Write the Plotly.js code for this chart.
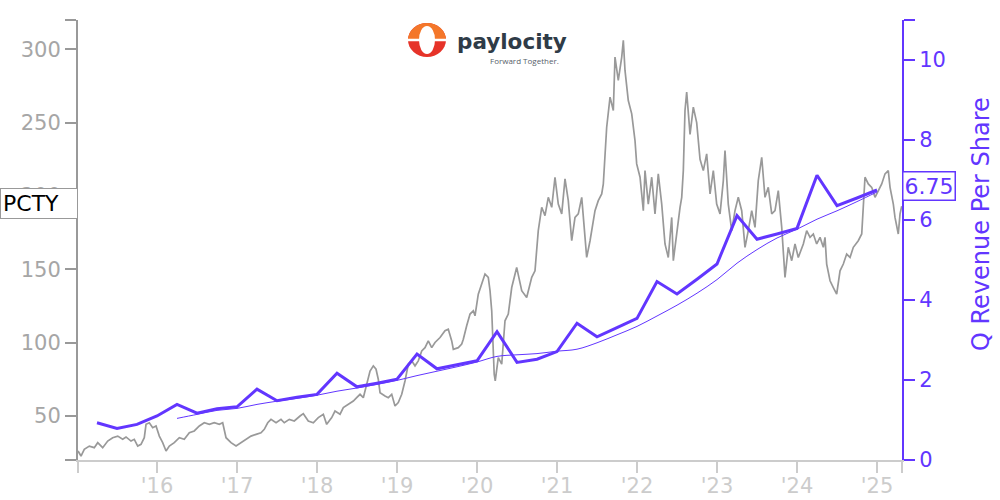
<!DOCTYPE html>
<html>
<head>
<meta charset="utf-8">
<script src="https://cdn.plot.ly/plotly-3.0.1.min.js"></script>
<style>html,body{margin:0;padding:0;background:#fff;}#chart{width:1000px;height:500px;}</style>
</head>
<body>
<div id="chart"></div>
<script>
// ---- Data ----
var ticker = 'PCTY';
var priceX = [2015.013,2015.050,2015.091,2015.154,2015.216,2015.259,2015.321,2015.384,2015.446,2015.509,2015.571,2015.613,2015.675,2015.716,2015.759,2015.800,2015.841,2015.863,2015.904,2015.946,2015.988,
2016.029,2016.071,2016.113,2016.154,2016.216,2016.279,2016.341,2016.404,2016.466,2016.529,2016.591,2016.654,2016.716,2016.779,2016.821,2016.863,2016.925,2016.988,
2017.050,2017.113,2017.175,2017.238,2017.300,2017.341,2017.384,2017.425,2017.488,2017.550,2017.591,2017.654,2017.716,2017.788,2017.829,2017.891,2017.954,
2018.016,2018.079,2018.121,2018.184,2018.225,2018.288,2018.329,2018.391,2018.454,2018.496,2018.538,2018.579,2018.621,2018.663,2018.704,2018.738,2018.766,2018.788,2018.850,2018.891,2018.934,2018.975,
2019.016,2019.059,2019.100,2019.141,2019.184,2019.225,2019.266,2019.309,2019.350,2019.391,2019.434,2019.475,2019.538,2019.600,2019.641,2019.684,2019.704,2019.766,2019.809,2019.829,2019.871,2019.913,2019.954,2019.975,
2020.016,2020.059,2020.100,2020.141,2020.163,2020.184,2020.204,2020.215,2020.228,2020.266,2020.309,2020.350,2020.391,2020.434,2020.496,2020.559,2020.621,2020.684,2020.725,2020.766,2020.809,2020.850,2020.891,2020.934,2020.975,
2021.016,2021.059,2021.100,2021.141,2021.184,2021.225,2021.266,2021.309,2021.350,2021.371,2021.413,2021.475,2021.516,2021.559,2021.579,2021.600,2021.621,2021.663,2021.704,2021.725,2021.766,2021.809,2021.829,2021.850,2021.891,2021.934,2021.975,2021.996,
2022.038,2022.079,2022.100,2022.141,2022.184,2022.225,2022.266,2022.309,2022.350,2022.391,2022.434,2022.454,2022.496,2022.538,2022.559,2022.579,2022.600,2022.621,2022.663,2022.704,2022.746,2022.788,2022.829,2022.871,2022.913,2022.954,2022.996,
2023.038,2023.079,2023.100,2023.141,2023.184,2023.225,2023.266,2023.309,2023.350,2023.391,2023.434,2023.475,2023.516,2023.559,2023.600,2023.641,2023.684,2023.725,2023.766,2023.809,2023.829,2023.850,2023.891,2023.934,2023.975,
2024.016,2024.079,2024.121,2024.163,2024.204,2024.246,2024.288,2024.329,2024.350,2024.371,2024.413,2024.454,2024.496,2024.538,2024.579,2024.621,2024.663,2024.704,2024.766,2024.809,2024.829,2024.850,2024.891,2024.934,2024.975,
2025.016,2025.059,2025.100,2025.141,2025.163,2025.204,2025.225,2025.266,2025.288,2025.309];
var priceY = [26.1,22.7,27.3,29.5,28.4,31.8,28.4,32.9,35.2,36.3,34.1,35.7,32.9,34.1,29.5,30.7,35.2,44.3,45.4,42.0,43.2,
36.3,31.8,26.1,29.5,31.8,35.2,34.1,38.6,39.8,43.2,45.4,44.3,45.4,44.3,45.4,35.2,31.8,29.5,
31.8,34.1,36.3,37.5,38.6,40.9,45.4,47.7,45.4,47.7,45.4,47.7,46.6,50.0,51.6,46.6,45.4,
48.9,51.2,44.3,48.9,53.4,51.2,55.7,58.0,60.2,62.5,64.8,62.5,71.6,80.7,84.2,81.9,75.1,65.9,63.7,62.5,64.8,56.8,
59.1,64.8,73.9,85.3,87.6,84.2,87.6,94.4,96.6,101.2,96.6,100.1,103.5,108.1,109.2,101.2,95.5,96.6,99.0,102.4,111.5,119.5,121.7,118.3,
133.1,139.9,146.8,144.5,135.4,121.7,94.4,78.5,73.9,89.8,85.3,114.9,119.5,137.6,151.3,135.4,130.8,144.5,149.0,176.4,192.3,186.6,199.1,192.3,212.8,
194.5,187.8,211.7,196.8,169.5,185.4,187.8,199.1,171.8,158.1,169.5,190.0,196.8,201.4,208.2,226.4,246.9,267.4,258.3,294.7,278.8,294.7,306.1,285.6,265.1,256.0,237.8,221.9,
212.8,190.0,217.3,194.5,212.8,187.8,215.1,194.5,167.3,158.1,185.4,155.9,176.4,192.3,199.1,217.3,258.3,270.8,242.0,260.6,250.0,225.0,217.3,228.7,201.4,217.3,194.5,
187.8,210.5,231.0,194.5,176.4,190.0,199.1,190.0,165.0,176.4,190.0,178.6,210.5,226.4,199.1,205.9,187.8,190.0,203.7,178.6,158.1,144.5,165.0,155.9,167.3,
158.1,167.3,176.4,171.8,174.1,167.3,171.8,165.0,171.8,153.6,142.2,137.6,133.1,149.0,153.6,160.4,158.1,165.0,169.5,174.1,190.0,212.8,208.2,205.9,199.1,
203.7,208.2,215.1,217.3,205.9,194.5,185.4,174.1,187.8,193.0];

var revX = [2015.25,2015.5,2015.75,2016.0,2016.25,2016.5,2016.75,2017.0,2017.25,2017.5,2017.75,2018.0,2018.25,2018.5,2018.75,2019.0,2019.25,2019.5,2019.75,2020.0,
2020.25,2020.5,2020.75,2021.0,2021.25,2021.5,2021.75,2022.0,2022.25,2022.5,2022.75,2023.0,2023.25,2023.5,2023.75,2024.0,2024.25,2024.5,2024.75,2025.0];
var revY = [0.93,0.79,0.89,1.10,1.39,1.17,1.28,1.33,1.77,1.48,1.57,1.64,2.17,1.83,1.92,2.02,2.65,2.28,2.38,2.48,
3.21,2.44,2.52,2.71,3.42,3.08,3.31,3.54,4.46,4.15,4.52,4.90,6.11,5.52,5.65,5.79,7.12,6.36,6.55,6.75];

var avgX = [2016.25,2016.5,2016.75,2017.0,2017.25,2017.5,2017.75,2018.0,2018.25,2018.5,2018.75,2019.0,2019.25,2019.5,2019.75,2020.0,
2020.25,2020.5,2020.75,2021.0,2021.25,2021.5,2021.75,2022.0,2022.25,2022.5,2022.75,2023.0,2023.25,2023.5,2023.75,2024.0,2024.25,2024.5,2024.75,2025.0];
var avgY = [1.04,1.14,1.24,1.29,1.39,1.47,1.54,1.62,1.72,1.80,1.89,1.99,2.11,2.22,2.33,2.45,
2.59,2.63,2.66,2.72,2.77,2.93,3.13,3.34,3.60,3.87,4.17,4.51,4.92,5.26,5.55,5.77,6.02,6.23,6.46,6.70];

var xTickVals = [2015.0125,2016,2017,2018,2019,2020,2021,2022,2023,2024,2025,2025.3125];
var xTickText = ['',"'16","'17","'18","'19","'20","'21","'22","'23","'24","'25",''];
var yTickVals = [20,50,100,150,200,250,300,320];
var yTickText = ['','50','100','150','200','250','300',''];
var y2TickVals = [0,2,4,6,8,10,11];
var y2TickText = ['0','2','4','6','8','10',''];
var revLabel = '6.75';
var logoName = 'paylocity';
var logoTagline = 'Forward Together.';
var y2Title = 'Q Revenue Per Share';

// ---- Styles ----
var PURPLE = '#6236ff';
var FONT = 'DejaVu Sans';

var traces = [
  {x: priceX, y: priceY, type: 'scatter', mode: 'lines', yaxis: 'y',
   line: {color: '#999999', width: 1.7}, hoverinfo: 'skip', showlegend: false},
  {x: avgX, y: avgY, type: 'scatter', mode: 'lines', yaxis: 'y2',
   line: {color: PURPLE, width: 1, shape: 'spline'}, hoverinfo: 'skip', showlegend: false},
  {x: revX, y: revY, type: 'scatter', mode: 'lines', yaxis: 'y2',
   line: {color: PURPLE, width: 3}, hoverinfo: 'skip', showlegend: false}
];

var iconX = (427 - 78) / 824, iconY = (460 - 40) / 440;

var layout = {
  width: 1000, height: 500,
  margin: {l: 78, r: 98, t: 20, b: 40, pad: 0},
  paper_bgcolor: '#ffffff', plot_bgcolor: '#ffffff',
  font: {family: FONT},
  showlegend: false,
  xaxis: {
    type: 'linear', range: [2015.0125, 2025.3125],
    tickmode: 'array', tickvals: xTickVals, ticktext: xTickText,
    showgrid: false, zeroline: false,
    showline: true, linecolor: '#cccccc', linewidth: 2,
    ticks: 'outside', ticklen: 11, tickwidth: 2, tickcolor: '#cccccc',
    ticklabelstandoff: -5,
    tickfont: {family: FONT, size: 21, color: '#cccccc'}
  },
  yaxis: {
    range: [20, 320],
    tickmode: 'array', tickvals: yTickVals, ticktext: yTickText,
    showgrid: false, zeroline: false,
    showline: true, linecolor: '#999999', linewidth: 2,
    ticks: 'outside', ticklen: 11, tickwidth: 2, tickcolor: '#999999',
    tickfont: {family: FONT, size: 21, color: '#a6a6a6'}
  },
  yaxis2: {
    overlaying: 'y', side: 'right', range: [0, 11],
    tickmode: 'array', tickvals: y2TickVals, ticktext: y2TickText,
    showgrid: false, zeroline: false,
    showline: true, linecolor: PURPLE, linewidth: 2,
    ticks: 'outside', ticklen: 11, tickwidth: 2, tickcolor: PURPLE,
    tickfont: {family: FONT, size: 21, color: PURPLE}
  },
  shapes: [
    {type: 'circle', xref: 'paper', yref: 'paper', xsizemode: 'pixel', ysizemode: 'pixel',
     xanchor: iconX, yanchor: iconY, x0: -19, x1: 19, y0: -17, y1: 17,
     fillcolor: '#e63329', line: {width: 0}, layer: 'above'},
    {type: 'path', xref: 'paper', yref: 'paper', xsizemode: 'pixel', ysizemode: 'pixel',
     xanchor: iconX, yanchor: iconY,
     path: 'M -19 0 C -19 9.39 -10.49 17 0 17 C 10.49 17 19 9.39 19 0 Z',
     fillcolor: '#f4772a', line: {width: 0}, layer: 'above'},
    {type: 'circle', xref: 'paper', yref: 'paper', xsizemode: 'pixel', ysizemode: 'pixel',
     xanchor: iconX, yanchor: iconY, x0: -8, x1: 8, y0: -14, y1: 14,
     fillcolor: '#ffffff', line: {width: 0}, layer: 'above'},
    {type: 'rect', xref: 'paper', yref: 'paper', xsizemode: 'pixel', ysizemode: 'pixel',
     xanchor: iconX, yanchor: iconY, x0: -21, x1: 21, y0: -1.3, y1: 1.3,
     fillcolor: '#ffffff', line: {width: 0}, layer: 'above'}
  ],
  annotations: [
    {xref: 'paper', yref: 'paper', x: (455 - 78) / 824, y: (460 - 41) / 440,
     xanchor: 'left', yanchor: 'middle', showarrow: false, text: '<b>' + logoName + '</b>',
     font: {family: FONT, size: 21.5, color: '#2f3b47'}},
    {xref: 'paper', yref: 'paper', x: (488 - 78) / 824, y: (460 - 61) / 440,
     xanchor: 'left', yanchor: 'middle', showarrow: false, text: logoTagline,
     font: {family: 'Open Sans', size: 8, color: '#56606a'}},
    {xref: 'paper', yref: 'y', x: 0, y: priceY[priceY.length - 1], yshift: 3,
     xanchor: 'right', yanchor: 'middle', showarrow: false, text: ticker,
     align: 'left', width: 72,
     font: {family: FONT, size: 22, color: '#000000'},
     bgcolor: '#ffffff', bordercolor: '#999999', borderwidth: 1, borderpad: 2},
    {xref: 'paper', yref: 'y2', x: 1, y: revY[revY.length - 1], yshift: 4,
     xanchor: 'left', yanchor: 'middle', showarrow: false, text: revLabel,
     font: {family: FONT, size: 22, color: PURPLE},
     bgcolor: '#ffffff', bordercolor: PURPLE, borderwidth: 1.5, borderpad: 1},
    // right axis title
    {xref: 'paper', yref: 'paper', x: (981 - 78) / 824, y: (460 - 224) / 440,
     xanchor: 'center', yanchor: 'middle', showarrow: false, textangle: -90,
     text: y2Title, font: {family: FONT, size: 24, color: PURPLE}}
  ]
};

Plotly.newPlot('chart', traces, layout, {staticPlot: true, displayModeBar: false});
</script>
</body>
</html>
